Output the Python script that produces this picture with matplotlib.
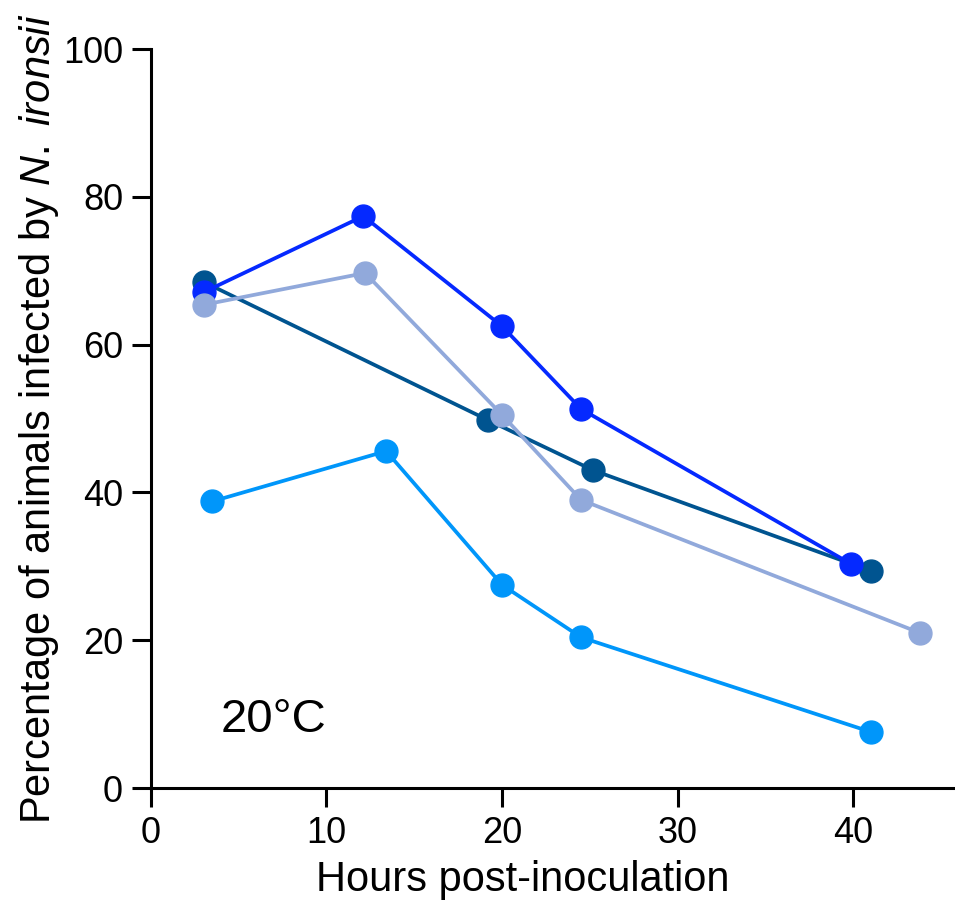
import matplotlib
matplotlib.use('Agg')
import matplotlib.pyplot as plt

plt.rcParams['font.family'] = ['Liberation Sans', 'DejaVu Sans']
plt.rcParams['mathtext.fontset'] = 'custom'
plt.rcParams['mathtext.rm'] = 'Liberation Sans'
plt.rcParams['mathtext.it'] = 'Liberation Sans:italic'

# Datos
dark_x = [3.0, 19.2, 25.2, 41.0]
dark_y = [68.5, 49.8, 43.0, 29.4]
bright_x = [3.0, 12.1, 20.0, 24.5, 39.9]
bright_y = [67.1, 77.4, 62.5, 51.3, 30.3]
light_x = [3.0, 12.2, 20.0, 24.5, 43.8]
light_y = [65.4, 69.7, 50.5, 39.0, 21.0]
sky_x = [3.5, 13.4, 20.0, 24.5, 41.0]
sky_y = [38.8, 45.6, 27.5, 20.4, 7.6]

series = [
    (dark_x, dark_y, '#005490'),
    (bright_x, bright_y, '#0529FF'),
    (light_x, light_y, '#91A9DB'),
    (sky_x, sky_y, '#0096FA'),
]

fig = plt.figure(figsize=(9.55, 9.10), dpi=100)
ax = fig.add_axes([0.158, 0.134, 0.842, 0.812])

for xs, ys, c in series:
    ax.plot(xs, ys, '-o', color=c, linewidth=2.7, markersize=16.5, clip_on=False)

ax.set_xlim(0, 45.8)
ax.set_ylim(0, 100)
ax.set_xticks([0, 10, 20, 30, 40])
ax.set_yticks([0, 20, 40, 60, 80, 100])
ax.spines['top'].set_visible(False)
ax.spines['right'].set_visible(False)
for s in ('left', 'bottom'):
    ax.spines[s].set_linewidth(2.2)
ax.tick_params(width=2.2, length=14, labelsize=26, pad=6)

ax.set_xlabel('Hours post-inoculation', fontsize=30)
ax.xaxis.set_label_coords(0.462, -0.098)
ax.set_ylabel(r'Percentage of animals infected by $\it{N.}$ $\it{ironsii}$', fontsize=30)
ax.yaxis.set_label_coords(-0.112, 0.5)
ax.text(4.0, 7.6, '20°C', fontsize=34)

fig.savefig('out.png', dpi=100)
